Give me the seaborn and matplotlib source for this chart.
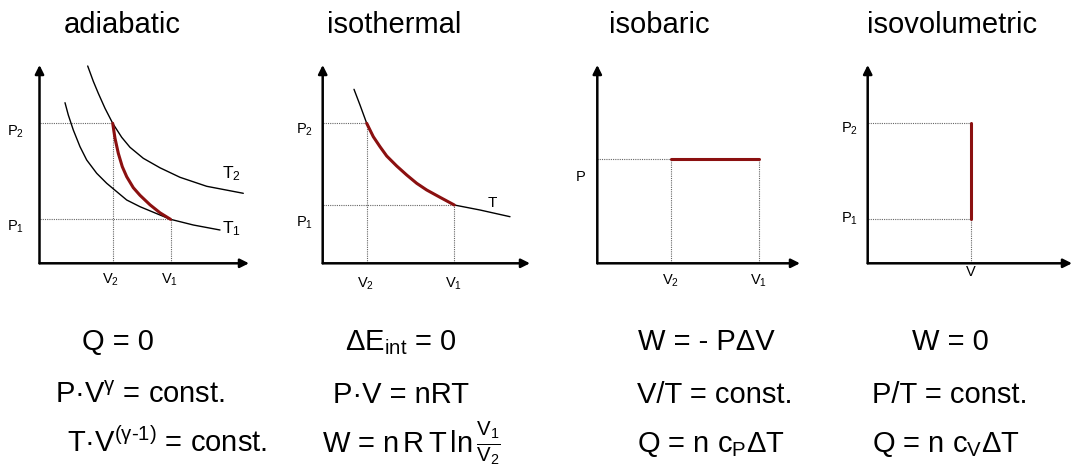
import matplotlib
matplotlib.use('Agg')
import matplotlib.pyplot as plt
import seaborn as sns

# --- data (V and P in arbitrary units) ---
titles = ['adiabatic', 'isothermal', 'isobaric', 'isovolumetric']

# adiabatic: two isotherms and the adiabat between them
adia_T2_V = [4.82, 5.38, 5.88, 6.55, 7.32, 8.22, 9.05, 10.38, 12.05, 14.05, 16.72, 20.38]
adia_T2_P = [19.73, 18.2, 17.0, 15.5, 14.0, 12.6, 11.6, 10.5, 9.55, 8.6, 7.7, 7.0]
adia_T1_V = [2.55, 2.88, 3.38, 4.05, 4.72, 5.72, 6.72, 8.72, 10.05, 12.05, 13.10, 15.38, 18.05]
adia_T1_P = [16.06, 14.83, 13.33, 11.66, 10.33, 9.0, 8.0, 6.33, 5.66, 4.83, 4.40, 3.83, 3.33]
adia_path_V = [7.32, 7.55, 7.88, 8.28, 8.72, 9.38, 10.05, 11.05, 12.05, 13.10]
adia_path_P = [14.0, 12.5, 11.0, 9.66, 8.66, 7.56, 6.8, 5.85, 5.05, 4.40]
adia_V = [7.32, 13.10]   # V2, V1
adia_P = [14.0, 4.40]    # P2, P1

# isothermal: one isotherm, path from V2 to V1
iso_T_V = [3.13, 3.73, 4.40, 4.73, 5.06, 5.73, 6.40, 7.40, 8.40, 9.40, 10.40,
           11.73, 13.16, 15.73, 18.73]
iso_T_P = [17.40, 15.83, 14.00, 13.33, 12.66, 11.66, 10.73, 9.73, 8.83, 8.00, 7.33,
           6.60, 5.83, 5.33, 4.66]
iso_V = [4.40, 13.16]    # V2, V1
iso_P = [14.00, 5.83]    # P2, P1

# isobaric
bar_V = [7.33, 16.17]    # V2, V1
bar_P = 10.46

# isovolumetric
vol_V = 10.33
vol_P = [14.07, 4.43]    # P2, P1

formulas = [
    ['Q = 0', r'P·V$^{γ}$ = const.', r'T·V$^{(γ\text{-}1)}$ = const.'],
    [r'ΔE$_{int}$ = 0', 'P·V = nRT', r'W = n$\,$R$\,$T$\,$ln$\,\frac{V_1}{V_2}$'],
    ['W = - PΔV', 'V/T = const.', r'Q = n c$_P$ΔT'],
    ['W = 0', 'P/T = const.', r'Q = n c$_V$ΔT'],
]

# --- style ---
sns.set_style('white')
plt.rcParams['font.family'] = ['Liberation Sans', 'DejaVu Sans']
plt.rcParams['text.color'] = 'black'
plt.rcParams['mathtext.fontset'] = 'custom'
plt.rcParams['mathtext.rm'] = 'Liberation Sans'
plt.rcParams['mathtext.it'] = 'Liberation Sans'
plt.rcParams['mathtext.default'] = 'regular'

RED = '#8b1010'
GRID = '#666666'
W, H = 1072, 467

fig = plt.figure(figsize=(W / 100, H / 100), dpi=100)

# axes origin (px) and arrow lengths (px)
origins = [39.5, 322.7, 597.3, 867.7]
lengths = [209.5, 207.3, 202.7, 204.3]
oy, top = 263.3, 65.0

axes = []
for ox, L in zip(origins, lengths):
    ax = fig.add_axes([ox / W, 1 - oy / H, L / W, (oy - top) / H])
    ax.set_xlim(0, L / 10)
    ax.set_ylim(0, (oy - top) / 10)
    ax.axis('off')
    for xy in [(L / 10, 0), (0, (oy - top) / 10)]:
        ax.annotate('', xy=xy, xytext=(0, 0),
                    arrowprops=dict(arrowstyle='-|>', color='black', lw=1.8,
                                    mutation_scale=13, shrinkA=0, shrinkB=0),
                    annotation_clip=False)
    axes.append(ax)


def guide(ax, xs, ys):
    ax.plot(xs, ys, color=GRID, lw=0.8, ls=(0, (1, 1)), zorder=1)


def curve(ax, xs, ys, color='black', lw=1.0):
    sns.lineplot(x=xs, y=ys, ax=ax, color=color, lw=lw, sort=False,
                 estimator=None, zorder=3)


def label(ax, txt, x, y, dx, dy, size=10.5, ha='center'):
    ax.annotate(txt, xy=(x, y), xytext=(dx, dy), textcoords='offset pixels',
                ha=ha, va='baseline', fontsize=size, annotation_clip=False)


# adiabatic
ax = axes[0]
for v, p in zip(adia_V, adia_P):
    guide(ax, [0, v], [p, p])
    guide(ax, [v, v], [0, p])
curve(ax, adia_T2_V, adia_T2_P)
curve(ax, adia_T1_V, adia_T1_P)
curve(ax, adia_path_V, adia_path_P, RED, 2.2)
label(ax, r'P$_2$', 0, adia_P[0], -24, -12)
label(ax, r'P$_1$', 0, adia_P[1], -24, -11)
label(ax, r'V$_2$', adia_V[0], 0, -2, -20)
label(ax, r'V$_1$', adia_V[1], 0, -1, -20)
ax.text(18.2, 8.5, r'T$_2$', fontsize=12.5, va='baseline')
ax.text(18.25, 3.0, r'T$_1$', fontsize=12.5, va='baseline')

# isothermal
ax = axes[1]
for v, p in zip(iso_V, iso_P):
    guide(ax, [0, v], [p, p])
    guide(ax, [v, v], [0, p])
curve(ax, iso_T_V, iso_T_P)
seg = [(v, p) for v, p in zip(iso_T_V, iso_T_P) if iso_V[0] <= v <= iso_V[1]]
curve(ax, [s[0] for s in seg], [s[1] for s in seg], RED, 2.2)
label(ax, r'P$_2$', 0, iso_P[0], -18, -10)
label(ax, r'P$_1$', 0, iso_P[1], -18, -22)
label(ax, r'V$_2$', iso_V[0], 0, -1, -24)
label(ax, r'V$_1$', iso_V[1], 0, -1, -24)
ax.text(16.5, 5.6, 'T', fontsize=11, va='baseline')

# isobaric
ax = axes[2]
guide(ax, [0, bar_V[0]], [bar_P, bar_P])
for v in bar_V:
    guide(ax, [v, v], [0, bar_P])
curve(ax, bar_V, [bar_P, bar_P], RED, 2.2)
label(ax, 'P', 0, bar_P, -17, -22)
label(ax, r'V$_2$', bar_V[0], 0, 0, -21)
label(ax, r'V$_1$', bar_V[1], 0, 0, -21)

# isovolumetric
ax = axes[3]
for p in vol_P:
    guide(ax, [0, vol_V], [p, p])
guide(ax, [vol_V, vol_V], [0, vol_P[1]])
curve(ax, [vol_V, vol_V], vol_P, RED, 2.2)
label(ax, r'P$_2$', 0, vol_P[0], -18, -10)
label(ax, r'P$_1$', 0, vol_P[1], -18, -4)
label(ax, 'V', vol_V, 0, 0, -13)

# titles and formulas
title_x = [122, 394, 659, 952]
for t, x in zip(titles, title_x):
    fig.text(x / W, 1 - 33 / H, t, ha='center', va='baseline', fontsize=21)

rows_y = [350, 403, 452]
cols_x = [[82, 55, 67], [345, 333, 322], [638, 637, 637], [912, 872, 872]]
for col, xs in zip(formulas, cols_x):
    for f, x, y in zip(col, xs, rows_y):
        fig.text(x / W, 1 - y / H, f, ha='left', va='baseline', fontsize=21)

fig.savefig('out.png', dpi=100)
